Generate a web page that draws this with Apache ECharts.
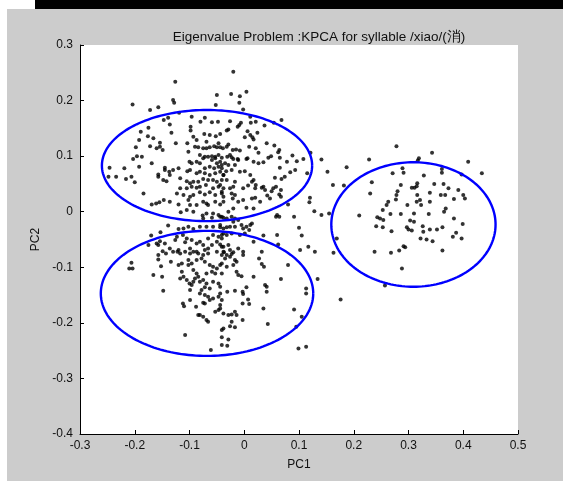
<!DOCTYPE html>
<html>
<head>
<meta charset="utf-8">
<script src="https://cdn.jsdelivr.net/npm/echarts@6/dist/echarts.min.js"></script>
<style>
  html, body { margin: 0; padding: 0; background: #ffffff; }
  #chart { width: 563px; height: 481px; }
</style>
</head>
<body>
<div id="chart"></div>
<script>
// Axis ranges and ticks
const pc1Ticks = [-0.3, -0.2, -0.1, 0, 0.1, 0.2, 0.3, 0.4, 0.5];
const pc2Ticks = [-0.4, -0.3, -0.2, -0.1, 0, 0.1, 0.2, 0.3];

// Projected samples: [PC1, PC2]
const scores = [
  [-0.126,0.234],[-0.204,0.193],[-0.130,0.201],[-0.128,0.196],[-0.050,0.210],[-0.052,0.192],
  [-0.172,0.183],[-0.157,0.188],[-0.119,0.178],[-0.147,0.165],[-0.139,0.169],[-0.136,0.157],
  [-0.096,0.171],[-0.080,0.162],[-0.072,0.169],[-0.059,0.161],[-0.048,0.162],[-0.175,0.151],
  [-0.189,0.144],[-0.098,0.153],[-0.098,0.146],[-0.133,0.142],[-0.176,0.136],[-0.166,0.132],
  [-0.192,0.129],[-0.154,0.124],[-0.160,0.114],[-0.149,0.111],[-0.154,0.117],[-0.125,0.123],
  [-0.104,0.123],[-0.093,0.135],[-0.087,0.129],[-0.073,0.140],[-0.063,0.138],[-0.052,0.136],
  [-0.044,0.140],[-0.069,0.126],[-0.198,0.116],[-0.172,0.118],[-0.102,0.108],[-0.090,0.117],
  [-0.084,0.116],[-0.075,0.114],[-0.069,0.114],[-0.063,0.116],[-0.055,0.118],[-0.050,0.116],
  [-0.044,0.116],[-0.047,0.123],[-0.196,0.100],[-0.187,0.099],[-0.203,0.095],[-0.081,0.102],
  [-0.072,0.099],[-0.059,0.100],[-0.053,0.099],[-0.047,0.102],
  [-0.020,0.252],[-0.024,0.212],[-0.008,0.208],[0.004,0.216],[-0.009,0.196],[-0.002,0.184],
  [0.011,0.171],[-0.026,0.163],[-0.006,0.160],[-0.009,0.156],[0.012,0.160],[0.021,0.162],
  [0.054,0.160],[0.068,0.165],[0.037,0.155],[-0.029,0.148],[-0.032,0.146],[-0.012,0.153],
  [0.006,0.145],[0.024,0.142],[0.011,0.138],[0.015,0.134],[0.017,0.130],[0.001,0.134],
  [-0.029,0.121],[-0.032,0.117],[-0.039,0.114],[0.041,0.123],[0.055,0.119],[0.009,0.117],
  [0.021,0.114],[0.026,0.106],[0.064,0.111],[0.062,0.107],[-0.021,0.111],[-0.015,0.112],
  [-0.008,0.110],[-0.026,0.102],[-0.023,0.098],[-0.012,0.095],[0.006,0.096],[0.044,0.097],
  [0.049,0.100],[0.088,0.101],[0.121,0.106],[0.141,0.094],
  [0.152,0.072],[0.187,0.080],[0.162,0.048],[0.182,0.047],[0.120,0.025],[0.119,0.017],
  [0.128,0.001],[0.141,-0.006],[0.155,-0.003],[0.091,-0.009],[0.100,-0.029],[0.105,-0.043],
  [0.117,-0.063],[0.169,-0.048],[0.060,-0.042],[0.035,-0.043],[0.062,-0.059],[0.060,-0.006],
  [0.064,-0.009],[0.058,-0.009],[0.080,0.013],
  [-0.041,0.097],[-0.031,0.099],[-0.020,0.095],[-0.035,0.087],[-0.029,0.084],[-0.041,0.078],
  [-0.033,0.073],[-0.023,0.075],[-0.017,0.084],[-0.011,0.093],[0.004,0.095],[0.017,0.090],
  [0.026,0.087],[0.035,0.089],[0.065,0.097],[0.078,0.090],[0.096,0.091],[0.108,0.095],
  [0.065,0.079],[0.084,0.071],[0.093,0.075],[0.115,0.069],[0.074,0.063],[0.056,0.061],
  [0.068,0.059],[0.058,0.045],[0.053,0.042],[0.050,0.037],[0.067,0.039],[0.064,0.031],
  [0.067,0.027],[-0.008,0.072],[0.001,0.073],[0.011,0.066],[0.014,0.054],[0.017,0.057],
  [0.021,0.048],[0.020,0.042],[-0.002,0.042],[0.007,0.047],[0.035,0.045],[0.038,0.039],
  [0.032,0.043],[0.042,0.029],[0.047,0.024],[-0.017,0.054],[-0.020,0.045],[-0.026,0.042],
  [-0.023,0.033],[-0.017,0.030],[-0.038,0.027],[-0.021,0.024],[-0.011,0.018],[-0.002,0.021],
  [0.014,0.024],[0.020,0.025],[0.029,0.018],[0.004,0.007],[0.017,0.006],[-0.020,0.006],
  [-0.029,0.000],[-0.038,0.066],[-0.032,0.057],[-0.044,0.048],[-0.041,0.036],
  [-0.044,-0.009],[-0.038,-0.011],[-0.032,-0.012],[-0.023,-0.009],[-0.017,-0.012],[-0.020,-0.018],
  [-0.011,-0.015],[-0.005,-0.024],[-0.002,-0.030],[0.004,-0.027],[0.011,-0.024],[0.014,-0.021],
  [0.009,-0.033],[0.001,-0.039],[-0.008,-0.042],[-0.023,-0.039],[-0.032,-0.042],[-0.038,-0.039],
  [-0.026,-0.027],[-0.017,-0.027],[-0.032,-0.028],[-0.044,-0.028],[-0.041,-0.048],[-0.044,-0.059],
  [-0.038,-0.063],[-0.029,-0.060],[-0.026,-0.069],[-0.020,-0.073],[-0.011,-0.066],[-0.002,-0.072],
  [-0.037,-0.073],[0.017,-0.054],[0.032,-0.072],
  [0.278,0.118],[0.343,0.106],[0.228,0.094],[0.319,0.096],[0.317,0.092],[0.409,0.090],
  [0.434,0.069],[0.271,0.069],[0.289,0.078],[0.291,0.070],[0.328,0.065],[0.361,0.077],
  [0.361,0.070],[0.397,0.067],[0.233,0.053],[0.286,0.048],[0.306,0.043],[0.311,0.043],
  [0.316,0.051],[0.315,0.046],[0.347,0.050],[0.364,0.050],[0.373,0.042],[0.391,0.039],
  [0.230,0.033],[0.280,0.037],[0.278,0.030],[0.339,0.034],[0.359,0.030],[0.367,0.030],
  [0.400,0.030],[0.403,0.024],[0.383,0.023],[0.277,0.022],[0.263,0.018],[0.260,0.012],
  [0.316,0.030],[0.315,0.018],[0.321,0.021],[0.323,0.012],[0.339,0.018],[0.298,0.012],
  [0.253,0.003],[0.267,-0.004],[0.286,-0.004],[0.310,-0.003],[0.337,-0.004],[0.368,0.006],
  [0.365,0.000],[0.210,-0.007],[0.243,-0.010],[0.248,-0.012],[0.254,-0.015],[0.383,-0.012],
  [0.303,-0.016],[0.310,-0.018],[0.241,-0.026],[0.253,-0.028],[0.269,-0.035],[0.297,-0.028],
  [0.300,-0.032],[0.306,-0.034],[0.326,-0.026],[0.327,-0.036],[0.339,-0.032],[0.352,-0.032],
  [0.362,-0.028],[0.399,-0.022],[0.387,-0.038],[0.381,-0.045],[0.397,-0.048],[0.322,-0.048],
  [0.333,-0.050],[0.344,-0.053],[0.291,-0.062],[0.294,-0.064],[0.283,-0.070],[0.268,-0.074],
  [0.238,-0.072],[0.362,-0.070],[0.163,-0.074],[0.288,-0.102],[0.257,-0.133],[0.176,-0.158],
  [-0.246,0.079],[-0.219,0.078],[-0.192,0.081],[-0.169,0.087],[-0.248,0.063],[-0.234,0.063],
  [-0.216,0.059],[-0.206,0.063],[-0.200,0.053],[-0.157,0.067],[-0.157,0.063],[-0.145,0.079],
  [-0.145,0.075],[-0.137,0.072],[-0.130,0.075],[-0.120,0.078],[-0.136,0.066],[-0.148,0.057],
  [-0.142,0.055],[-0.117,0.060],[-0.100,0.090],[-0.096,0.087],[-0.087,0.090],[-0.081,0.087],
  [-0.104,0.073],[-0.099,0.075],[-0.075,0.096],[-0.066,0.099],[-0.059,0.093],[-0.053,0.096],
  [-0.050,0.087],[-0.044,0.090],[-0.041,0.084],[-0.047,0.081],[-0.055,0.078],[-0.063,0.081],
  [-0.072,0.078],[-0.087,0.069],[-0.081,0.072],[-0.072,0.069],[-0.063,0.066],[-0.053,0.069],
  [-0.044,0.072],[-0.038,0.066],[-0.105,0.055],[-0.099,0.051],[-0.093,0.054],[-0.084,0.054],
  [-0.075,0.059],[-0.066,0.057],[-0.057,0.057],[-0.050,0.054],[-0.041,0.057],[-0.117,0.042],
  [-0.105,0.042],[-0.096,0.045],[-0.087,0.043],[-0.081,0.045],[-0.070,0.048],[-0.057,0.042],
  [-0.047,0.045],[-0.038,0.042],[-0.184,0.033],[-0.123,0.033],[-0.111,0.030],[-0.099,0.027],
  [-0.093,0.030],[-0.081,0.035],[-0.072,0.031],[-0.063,0.035],[-0.053,0.030],[-0.041,0.033],
  [-0.169,0.013],[-0.161,0.015],[-0.155,0.017],[-0.147,0.021],[-0.136,0.018],[-0.120,0.013],
  [-0.102,0.021],[-0.099,0.012],[-0.087,0.012],[-0.075,0.018],[-0.069,0.015],[-0.066,0.012],
  [-0.053,0.018],[-0.044,0.013],[-0.038,0.018],[-0.116,-0.001],[-0.105,0.003],[-0.093,0.000],
  [-0.076,-0.007],[-0.075,-0.012],[-0.069,-0.003],[-0.057,-0.003],[-0.059,-0.011],[-0.047,-0.006],
  [-0.041,-0.009],
  [-0.120,-0.031],[-0.111,-0.030],[-0.102,-0.027],[-0.093,-0.031],[-0.081,-0.027],[-0.069,-0.027],
  [-0.057,-0.027],[-0.044,-0.024],[-0.038,-0.030],[-0.139,-0.025],[-0.170,-0.043],[-0.153,-0.037],
  [-0.160,-0.057],[-0.154,-0.053],[-0.157,-0.060],[-0.175,-0.060],[-0.145,-0.057],[-0.136,-0.066],
  [-0.126,-0.051],[-0.123,-0.045],[-0.112,-0.042],[-0.105,-0.048],[-0.108,-0.055],[-0.096,-0.051],
  [-0.087,-0.057],[-0.081,-0.054],[-0.075,-0.060],[-0.130,-0.072],[-0.120,-0.069],[-0.117,-0.075],
  [-0.108,-0.072],[-0.099,-0.066],[-0.093,-0.072],[-0.084,-0.075],[-0.072,-0.069],[-0.066,-0.066],
  [-0.059,-0.060],[-0.050,-0.054],[-0.041,-0.063],[-0.038,-0.072],[-0.066,-0.048],[-0.057,-0.042],
  [-0.047,-0.045],[-0.041,-0.042],[-0.143,-0.075],[-0.149,-0.071],
  [-0.206,-0.092],[-0.210,-0.102],[-0.204,-0.102],[-0.157,-0.078],[-0.157,-0.086],[-0.152,-0.098],
  [-0.134,-0.090],[-0.166,-0.114],[-0.150,-0.117],[-0.148,-0.142],[-0.120,-0.096],[-0.114,-0.093],
  [-0.122,-0.072],[-0.099,-0.075],[-0.087,-0.072],[-0.075,-0.078],[-0.066,-0.075],[-0.050,-0.072],
  [-0.041,-0.078],[-0.102,-0.087],[-0.096,-0.093],[-0.102,-0.096],[-0.087,-0.087],[-0.078,-0.084],
  [-0.072,-0.090],[-0.063,-0.096],[-0.057,-0.099],[-0.050,-0.102],[-0.044,-0.096],[-0.041,-0.111],
  [-0.053,-0.111],[-0.059,-0.108],[-0.069,-0.111],[-0.114,-0.108],[-0.117,-0.120],[-0.111,-0.117],
  [-0.093,-0.105],[-0.087,-0.111],[-0.084,-0.117],[-0.090,-0.120],[-0.081,-0.126],[-0.093,-0.126],
  [-0.105,-0.123],[-0.100,-0.129],[-0.096,-0.132],[-0.099,-0.141],[-0.075,-0.123],[-0.069,-0.129],
  [-0.072,-0.136],[-0.063,-0.138],[-0.078,-0.141],[-0.057,-0.126],[-0.047,-0.129],[-0.044,-0.135],
  [-0.081,-0.147],[-0.072,-0.150],[-0.066,-0.153],[-0.063,-0.159],[-0.057,-0.156],[-0.047,-0.153],
  [-0.044,-0.147],[-0.041,-0.159],[-0.099,-0.159],[-0.112,-0.165],[-0.110,-0.170],[-0.088,-0.171],
  [-0.075,-0.164],[-0.072,-0.165],[-0.053,-0.180],[-0.047,-0.177],[-0.044,-0.174],[-0.084,-0.186],
  [-0.081,-0.186],[-0.075,-0.189],[-0.069,-0.195],[-0.066,-0.198],[-0.041,-0.213],[-0.038,-0.210],
  [-0.041,-0.226],[-0.108,-0.222],[-0.041,-0.240],[-0.061,-0.249],
  [-0.032,-0.078],[-0.026,-0.081],[-0.023,-0.076],[-0.035,-0.084],[-0.041,-0.093],[-0.032,-0.099],
  [-0.020,-0.096],[-0.014,-0.090],[-0.017,-0.087],[-0.002,-0.078],[-0.014,-0.108],[-0.011,-0.114],
  [-0.005,-0.116],[0.017,-0.117],[0.027,-0.084],[0.032,-0.094],[0.036,-0.099],[0.080,-0.096],
  [0.067,-0.121],[0.134,-0.121],[0.102,-0.069],[0.129,-0.072],[-0.031,-0.144],[-0.017,-0.142],
  [-0.003,-0.144],[-0.002,-0.148],[0.004,-0.136],[0.038,-0.132],[0.041,-0.135],[0.041,-0.144],
  [0.113,-0.138],[0.113,-0.147],[-0.044,-0.168],[-0.003,-0.165],[0.007,-0.158],[0.009,-0.166],
  [0.035,-0.174],[0.091,-0.176],[-0.038,-0.183],[-0.029,-0.186],[-0.023,-0.185],[-0.017,-0.180],
  [-0.014,-0.186],[0.105,-0.189],[-0.023,-0.198],[-0.026,-0.206],[-0.017,-0.208],[-0.003,-0.195],
  [0.043,-0.202],[0.095,-0.207],[-0.029,-0.230],[-0.031,-0.241],[0.099,-0.246],[0.113,-0.243]
];

// Cluster outlines: centre and semi-axes in PC units
const ellipseCx = [-0.068, -0.068, 0.309];
const ellipseCy = [0.083, -0.147, -0.023];
const ellipseRx = [0.192, 0.194, 0.150];
const ellipseRy = [0.100, 0.1125, 0.112];
const ellipses = ellipseCx.map((cx, i) => [cx, ellipseCy[i], ellipseRx[i], ellipseRy[i]]);

const titleText = 'Eigenvalue Problem :KPCA for syllable /xiao/(消)';
const FONT = '"Liberation Sans", Arial, Helvetica, sans-serif';

const fmt = v => {
  const r = Math.round(v * 10) / 10;
  return r === 0 ? '0' : String(r);
};

const chart = echarts.init(document.getElementById('chart'), null, { renderer: 'canvas' });

chart.setOption({
  backgroundColor: '#cccccc',
  animation: false,
  graphic: [
    { type: 'rect', left: 0, top: 0, shape: { width: 7, height: 481 }, style: { fill: '#ffffff' }, z: -1 },
    { type: 'rect', left: 0, top: 0, shape: { width: 563, height: 9 }, style: { fill: '#ffffff' }, z: -1 },
    { type: 'rect', left: 35, top: 0, shape: { width: 528, height: 9 }, style: { fill: '#000000' }, z: -1 }
  ],
  title: {
    text: titleText,
    left: 314,
    top: 25,
    textAlign: 'center',
    textStyle: { fontFamily: FONT, fontSize: 13.5, fontWeight: 'normal', color: '#111' }
  },
  grid: {
    left: 80, top: 45, width: 438, height: 389,
    show: true, backgroundColor: '#ffffff', borderWidth: 0
  },
  xAxis: {
    type: 'value',
    min: pc1Ticks[0], max: pc1Ticks[pc1Ticks.length - 1], interval: 0.1,
    name: 'PC1', nameLocation: 'middle', nameGap: 25,
    nameTextStyle: { fontFamily: FONT, fontSize: 12, color: '#111' },
    axisLine: { onZero: false, lineStyle: { color: '#000', width: 1 } },
    axisTick: { inside: true, length: 4, lineStyle: { color: '#000' } },
    axisLabel: { formatter: fmt, margin: 6, fontFamily: FONT, fontSize: 12, color: '#111' },
    splitLine: { show: false }
  },
  yAxis: {
    type: 'value',
    min: pc2Ticks[0], max: pc2Ticks[pc2Ticks.length - 1], interval: 0.1,
    name: 'PC2', nameLocation: 'middle', nameGap: 33, nameRotate: 90,
    nameTextStyle: { fontFamily: FONT, fontSize: 12, color: '#111' },
    axisLine: { onZero: false, lineStyle: { color: '#000', width: 1 } },
    axisTick: { inside: true, length: 4, lineStyle: { color: '#000' } },
    axisLabel: { formatter: fmt, margin: 7, fontFamily: FONT, fontSize: 12, color: '#111' },
    splitLine: { show: false }
  },
  series: [
    {
      type: 'scatter',
      data: scores,
      symbol: 'circle',
      symbolSize: 4,
      itemStyle: { color: '#000000' },
      z: 2
    },
    {
      type: 'custom',
      data: ellipses,
      encode: { x: 0, y: 1 },
      renderItem: (params, api) => {
        const cx = api.value(0), cy = api.value(1), rx = api.value(2), ry = api.value(3);
        const pts = [];
        for (let i = 0; i <= 180; i++) {
          const t = (i / 180) * Math.PI * 2;
          pts.push(api.coord([cx + rx * Math.cos(t), cy + ry * Math.sin(t)]));
        }
        return {
          type: 'polyline',
          shape: { points: pts },
          style: { fill: null, stroke: '#0000ff', lineWidth: 2.4 }
        };
      },
      z: 3
    }
  ]
});
</script>
</body>
</html>
